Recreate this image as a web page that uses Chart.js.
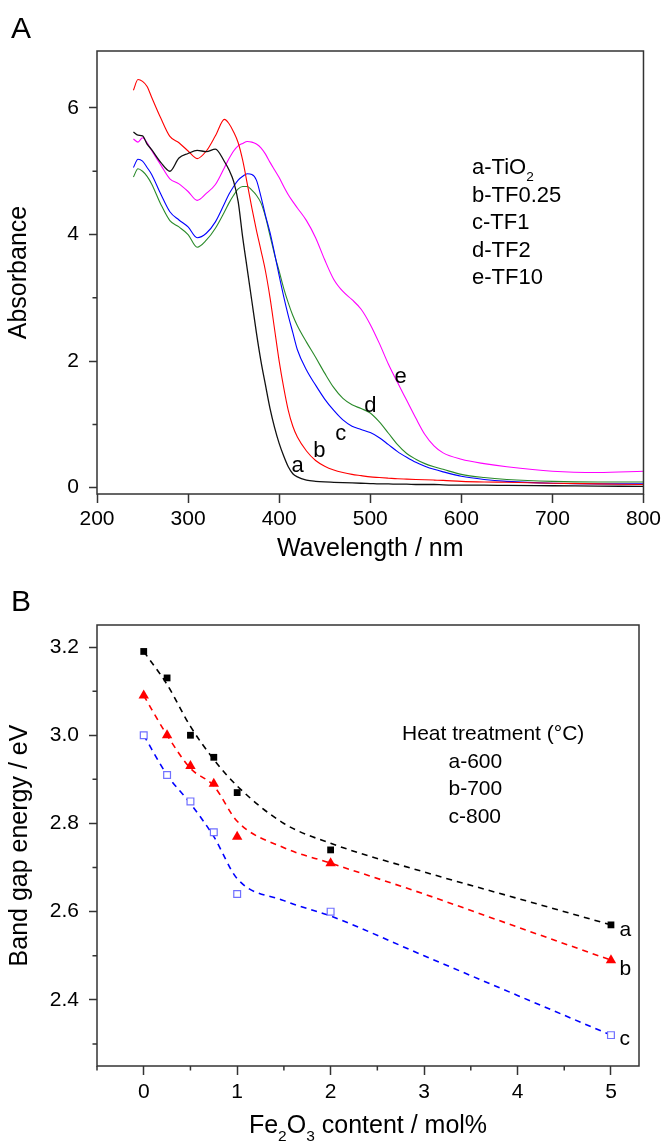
<!DOCTYPE html>
<html>
<head>
<meta charset="utf-8">
<script src="https://cdn.jsdelivr.net/npm/chart.js@4.4.1/dist/chart.umd.min.js"></script>
<style>
  body { margin: 0; background: #fff; }
  canvas { position: absolute; left: 0; }
  #chartA { top: 0; }
  #chartB { top: 575px; }
</style>
</head>
<body>
<canvas id="chartA" width="665" height="575"></canvas>
<canvas id="chartB" width="665" height="569"></canvas>
<script>
const FAMILY = '"Liberation Sans", Arial, sans-serif';

// ---- panel A: absorbance spectra
const wavelengths = [240, 245, 250, 255, 260, 270, 280, 290, 300, 310, 320, 330, 340, 345, 350, 355, 360, 365, 370, 375,
  380, 385, 390, 395, 400, 405, 410, 415, 420, 430, 440, 450, 460, 470, 480, 490, 500, 510, 520, 530,
  540, 550, 560, 570, 580, 600, 625, 650, 700, 750, 800];
const absTiO2 = [5.62, 5.57, 5.56, 5.43, 5.34, 5.14, 5.00, 5.21, 5.28, 5.33, 5.31, 5.35, 5.15, 5.02, 4.84, 4.52, 3.95, 3.45, 2.95, 2.45,
  2.00, 1.62, 1.25, 0.95, 0.70, 0.50, 0.33, 0.22, 0.17, 0.12, 0.10, 0.09, 0.085, 0.08, 0.075, 0.07, 0.065, 0.06, 0.06, 0.055,
  0.055, 0.05, 0.05, 0.05, 0.045, 0.04, 0.04, 0.035, 0.03, 0.025, 0.02];
const absTF025 = [6.28, 6.45, 6.42, 6.34, 6.17, 5.84, 5.55, 5.45, 5.32, 5.20, 5.32, 5.56, 5.82, 5.75, 5.62, 5.45, 5.17, 4.80, 4.42, 4.07,
  3.75, 3.42, 3.00, 2.50, 2.00, 1.58, 1.22, 0.97, 0.80, 0.58, 0.43, 0.34, 0.28, 0.24, 0.21, 0.19, 0.17, 0.16, 0.15, 0.14,
  0.135, 0.13, 0.125, 0.12, 0.115, 0.10, 0.09, 0.085, 0.07, 0.06, 0.05];
const absTF1 = [5.06, 5.19, 5.16, 5.06, 4.95, 4.64, 4.36, 4.23, 4.12, 3.95, 4.02, 4.20, 4.49, 4.64, 4.76, 4.86, 4.92, 4.96, 4.95, 4.86,
  4.60, 4.30, 4.03, 3.70, 3.35, 3.02, 2.72, 2.45, 2.18, 1.86, 1.62, 1.40, 1.22, 1.07, 0.97, 0.92, 0.87, 0.79, 0.68, 0.57,
  0.48, 0.40, 0.34, 0.29, 0.25, 0.18, 0.13, 0.10, 0.07, 0.06, 0.06];
const absTF2 = [4.91, 5.04, 5.00, 4.92, 4.80, 4.48, 4.22, 4.12, 4.00, 3.80, 3.91, 4.10, 4.36, 4.50, 4.62, 4.72, 4.76, 4.76, 4.70, 4.62,
  4.50, 4.28, 3.98, 3.68, 3.42, 3.15, 2.92, 2.72, 2.56, 2.30, 2.06, 1.81, 1.58, 1.41, 1.31, 1.25, 1.18, 1.04, 0.86, 0.68,
  0.54, 0.45, 0.38, 0.33, 0.29, 0.21, 0.16, 0.13, 0.10, 0.09, 0.09];
const absTF10 = [5.51, 5.46, 5.53, 5.45, 5.33, 5.10, 4.88, 4.80, 4.68, 4.54, 4.65, 4.79, 5.06, 5.20, 5.32, 5.40, 5.44, 5.47, 5.46, 5.43,
  5.37, 5.27, 5.14, 5.02, 4.90, 4.76, 4.63, 4.52, 4.42, 4.22, 3.95, 3.60, 3.29, 3.10, 2.97, 2.82, 2.58, 2.28, 1.95, 1.66,
  1.38, 1.10, 0.84, 0.66, 0.55, 0.45, 0.38, 0.33, 0.26, 0.24, 0.26];
const wlTicks = [200, 300, 400, 500, 600, 700, 800];
const absTicks = [0, 2, 4, 6];
const absMinor = [1, 3, 5];

// ---- panel B: band gap vs Fe2O3 content
const feContent = [0, 0.25, 0.5, 0.75, 1, 2, 5];
const gap600 = [3.19, 3.13, 3.00, 2.95, 2.87, 2.74, 2.57];
const gap700 = [3.09, 3.00, 2.93, 2.89, 2.77, 2.71, 2.49];
const gap800 = [3.00, 2.91, 2.85, 2.78, 2.64, 2.60, 2.32];
const fitContent = [0, 0.25, 0.5, 0.75, 1, 1.5, 2, 3, 4, 5];
const fit600 = [3.19, 3.115, 3.02, 2.945, 2.885, 2.80, 2.755, 2.69, 2.63, 2.57];
const fit700 = [3.09, 3.00, 2.925, 2.885, 2.805, 2.745, 2.71, 2.64, 2.565, 2.49];
const fit800 = [3.00, 2.91, 2.845, 2.77, 2.675, 2.625, 2.59, 2.50, 2.41, 2.32];
const contentTicks = [0, 1, 2, 3, 4, 5];
const contentMinor = [-0.5, 0.5, 1.5, 2.5, 3.5, 4.5];
const gapTicks = [2.4, 2.6, 2.8, 3.0, 3.2];
const gapMinor = [2.3, 2.5, 2.7, 2.9, 3.1];

const pts = (xs, ys) => xs.map((x, i) => ({x: x, y: ys[i]}));

// text drawn with optional subscripts: parts = [[text, isSub], ...]
function richText(ctx, parts, x, y, size, center) {
  const w = parts.reduce((s, p) => {
    ctx.font = (p[1] ? size * 0.62 : size) + 'px ' + FAMILY;
    return s + ctx.measureText(p[0]).width;
  }, 0);
  let cx = center ? x - w / 2 : x;
  parts.forEach(p => {
    ctx.font = (p[1] ? size * 0.62 : size) + 'px ' + FAMILY;
    ctx.fillText(p[0], cx, p[1] ? y + size * 0.33 : y);
    cx += ctx.measureText(p[0]).width;
  });
}

function frameAndMinor(chart, xMinor, yMinor) {
  const ctx = chart.ctx, a = chart.chartArea;
  ctx.save();
  ctx.strokeStyle = '#333';
  ctx.lineWidth = 1.5;
  ctx.strokeRect(a.left, a.top, a.right - a.left, a.bottom - a.top);
  ctx.beginPath();
  xMinor.forEach(v => {
    const p = chart.scales.x.getPixelForValue(v);
    ctx.moveTo(p, a.bottom); ctx.lineTo(p, a.bottom + 4.5);
  });
  yMinor.forEach(v => {
    const p = chart.scales.y.getPixelForValue(v);
    ctx.moveTo(a.left, p); ctx.lineTo(a.left - 4.5, p);
  });
  ctx.stroke();
  ctx.restore();
}

const legendA = [
  [['a-TiO', false], ['2', true]],
  [['b-TF0.25', false]],
  [['c-TF1', false]],
  [['d-TF2', false]],
  [['e-TF10', false]]
];
const tagsA = [
  {t: 'a', x: 413.5, y: 0.24},
  {t: 'b', x: 437.5, y: 0.49},
  {t: 'c', x: 461.5, y: 0.76},
  {t: 'd', x: 493.5, y: 1.19},
  {t: 'e', x: 526.5, y: 1.66}
];

const panelA = {
  id: 'panelA',
  afterDraw(chart) {
    frameAndMinor(chart, [], absMinor);
    const ctx = chart.ctx, a = chart.chartArea;
    ctx.save();
    ctx.fillStyle = '#000';
    ctx.textBaseline = 'alphabetic';
    ctx.font = '30px ' + FAMILY;
    ctx.fillText('A', 11, 38);
    legendA.forEach((parts, i) => richText(ctx, parts, a.left + 375, a.top + 123 + i * 27.6, 22));
    ctx.font = '22px ' + FAMILY;
    tagsA.forEach(g => ctx.fillText(g.t, chart.scales.x.getPixelForValue(g.x), chart.scales.y.getPixelForValue(g.y)));
    ctx.restore();
  }
};

const tagsB = [
  {t: 'a', x: 5.09, y: 2.545},
  {t: 'b', x: 5.09, y: 2.456},
  {t: 'c', x: 5.09, y: 2.298}
];
const legendB = ['a-600', 'b-700', 'c-800'];

const panelB = {
  id: 'panelB',
  afterDraw(chart) {
    frameAndMinor(chart, contentMinor, gapMinor);
    const ctx = chart.ctx, a = chart.chartArea;
    ctx.save();
    ctx.fillStyle = '#000';
    ctx.textBaseline = 'alphabetic';
    ctx.font = '30px ' + FAMILY;
    ctx.fillText('B', 11, 36);
    ctx.font = '21px ' + FAMILY;
    ctx.fillText('Heat treatment (\u00B0C)', a.left + 305, a.top + 115);
    legendB.forEach((s, i) => ctx.fillText(s, a.left + 351.5, a.top + 142.7 + i * 27.5));
    tagsB.forEach(g => ctx.fillText(g.t, chart.scales.x.getPixelForValue(g.x), chart.scales.y.getPixelForValue(g.y)));
    richText(ctx, [['Fe', false], ['2', true], ['O', false], ['3', true], [' content / mol%', false]],
      (a.left + a.right) / 2, 558, 25, true);
    ctx.restore();
  }
};

function axis(opts) {
  return {
    type: 'linear',
    min: opts.min, max: opts.max,
    afterBuildTicks: s => { s.ticks = opts.ticks.map(v => ({value: v})); },
    afterFit: s => { if (opts.width) s.width = opts.width; if (opts.height) s.height = opts.height; },
    border: {display: false},
    grid: {drawOnChartArea: false, drawTicks: true, tickLength: opts.tickLength, tickWidth: 1.5, tickColor: '#333', color: '#333'},
    ticks: {
      font: {family: FAMILY, size: 21}, color: '#000', padding: opts.padding, maxRotation: 0, autoSkip: false,
      callback: opts.fmt || (v => v)
    },
    title: opts.title ? {display: true, text: opts.title, color: '#000', font: {family: FAMILY, size: 25}, padding: opts.titlePad} : {display: false}
  };
}

const lineA = (data, color, w) => ({
  data: pts(wavelengths, data), borderColor: color, borderWidth: w || 1.1, pointRadius: 0,
  cubicInterpolationMode: 'monotone', fill: false
});

new Chart(document.getElementById('chartA'), {
  type: 'line',
  data: {
    datasets: [
      lineA(absTiO2, '#111111', 1.3),
      lineA(absTF025, '#ff0000'),
      lineA(absTF1, '#0000ff'),
      lineA(absTF2, '#2a8a2a'),
      lineA(absTF10, '#ff00ff')
    ]
  },
  options: {
    responsive: false,
    animation: false,
    devicePixelRatio: 1,
    layout: {padding: {left: 0, right: 20, top: 51, bottom: 0}},
    plugins: {legend: {display: false}, tooltip: {enabled: false}},
    scales: {
      x: axis({min: 200, max: 800, ticks: wlTicks, height: 81, tickLength: 9, padding: 4,
        title: 'Wavelength / nm', titlePad: {top: 0, bottom: 11}}),
      y: axis({min: -0.1, max: 6.9, ticks: absTicks, width: 97, tickLength: 8, padding: 10,
        title: 'Absorbance', titlePad: {top: 4, bottom: 0}})
    }
  },
  plugins: [panelA]
});

const dashed = (data, color) => ({
  data: pts(fitContent, data), borderColor: color, borderWidth: 1.6, borderDash: [6, 5],
  pointRadius: 0, cubicInterpolationMode: 'monotone', fill: false
});

new Chart(document.getElementById('chartB'), {
  type: 'line',
  data: {
    datasets: [
      {data: pts(feContent, gap600), showLine: false, pointStyle: 'rect', pointRadius: 4.8,
        pointBackgroundColor: '#000', pointBorderColor: '#000', pointBorderWidth: 0},
      {data: pts(feContent, gap700), showLine: false, pointStyle: 'triangle', pointRadius: 6,
        pointBackgroundColor: '#ff0000', pointBorderColor: '#ff0000', pointBorderWidth: 0},
      {data: pts(feContent, gap800), showLine: false, pointStyle: 'rect', pointRadius: 4.8,
        pointBackgroundColor: '#fff', pointBorderColor: '#7070ff', pointBorderWidth: 1.2},
      dashed(fit600, '#000000'),
      dashed(fit700, '#ff0000'),
      dashed(fit800, '#0000ff')
    ]
  },
  options: {
    responsive: false,
    animation: false,
    devicePixelRatio: 1,
    layout: {padding: {left: 0, right: 26, top: 50, bottom: 0}},
    plugins: {legend: {display: false}, tooltip: {enabled: false}},
    scales: {
      x: axis({min: -0.5, max: 5.3, ticks: contentTicks, height: 78, tickLength: 9, padding: 5}),
      y: axis({min: 2.25, max: 3.25, ticks: gapTicks, width: 97, tickLength: 8, padding: 10,
        fmt: v => v.toFixed(1), title: 'Band gap energy / eV', titlePad: {top: 5, bottom: 0}})
    }
  },
  plugins: [panelB]
});
</script>
</body>
</html>
